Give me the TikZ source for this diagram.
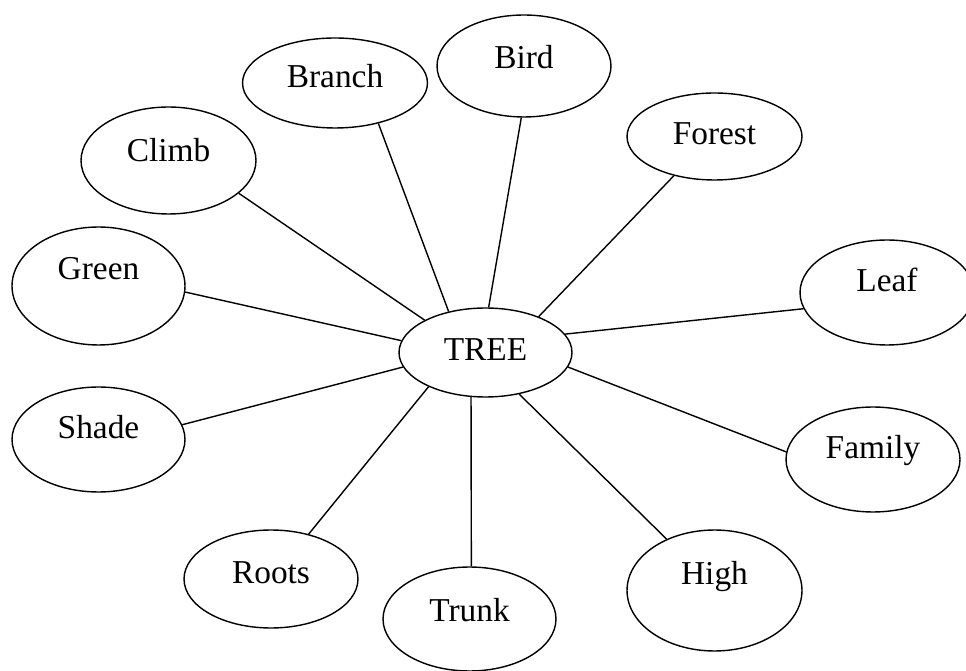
\documentclass[tikz,border=0pt]{standalone}
\usepackage{fontspec}
\setmainfont{Liberation Serif}
\usetikzlibrary{shapes.geometric}
\begin{document}
\begin{tikzpicture}[x=0.02cm,y=-0.02cm]
        \tikzset{idea/.style = {draw,ellipse,line width=0.8pt,inner sep=1pt,text height=12.5pt,font=\fontsize{19}{23}\selectfont}}
        \tikzset{link/.style = {line width=0.8pt}}

        \useasboundingbox (0,0) rectangle (966,671);

        \node[idea,minimum width=3.46cm,minimum height=1.78cm,text depth=3.4pt] (tree) at (485.5,352.5) {TREE};

        \node[idea,minimum width=3.70cm,minimum height=1.80cm,text depth=6.8pt] (branch) at (335,83) {Branch};
        \node[idea,minimum width=3.48cm,minimum height=2.04cm,text depth=10.2pt] (bird) at (524,66) {Bird};
        \node[idea,minimum width=3.50cm,minimum height=1.74cm,text depth=3.4pt] (forest) at (714.5,136.5) {Forest};
        \node[idea,minimum width=3.50cm,minimum height=2.14cm,text depth=11.3pt] (climb) at (168.5,160.5) {Climb};
        \node[idea,minimum width=3.46cm,minimum height=2.36cm,text depth=20.4pt] (green) at (98.5,286) {Green};
        \node[idea,minimum width=3.48cm,minimum height=2.10cm,text depth=13.6pt] (leaf) at (887,292.5) {Leaf};
        \node[idea,minimum width=3.46cm,minimum height=2.10cm,text depth=13.6pt] (shade) at (98.5,439.5) {Shade};
        \node[idea,minimum width=3.48cm,minimum height=2.10cm,text depth=13.6pt] (family) at (873,459.5) {Family};
        \node[idea,minimum width=3.48cm,minimum height=1.96cm,text depth=7.9pt] (roots) at (271,579) {Roots};
        \node[idea,minimum width=3.46cm,minimum height=2.08cm,text depth=10.2pt] (trunk) at (469.5,619) {Trunk};
        \node[idea,minimum width=3.50cm,minimum height=2.42cm,text depth=19.3pt] (high) at (714.5,590.5) {High};

        \draw[link] (tree.132) -- (branch.-43);
        \draw[link] (tree.86) -- (bird.-93);
        \draw[link] (tree.34) -- (forest.-136);
        \draw[link] (tree.13) -- (leaf.191);
        \draw[link] (tree.-10) -- (family.175);
        \draw[link] (tree.-51) -- (high.133);
        \draw[link] (tree.-108) -- (trunk.88);
        \draw[link] (tree.-149) -- (roots.50);
        \draw[link] (tree.190) -- (shade.10);
        \draw[link] (tree.172) -- (green.-4);
        \draw[link] (tree.152) -- (climb.-25);
    \end{tikzpicture}
\end{document}
